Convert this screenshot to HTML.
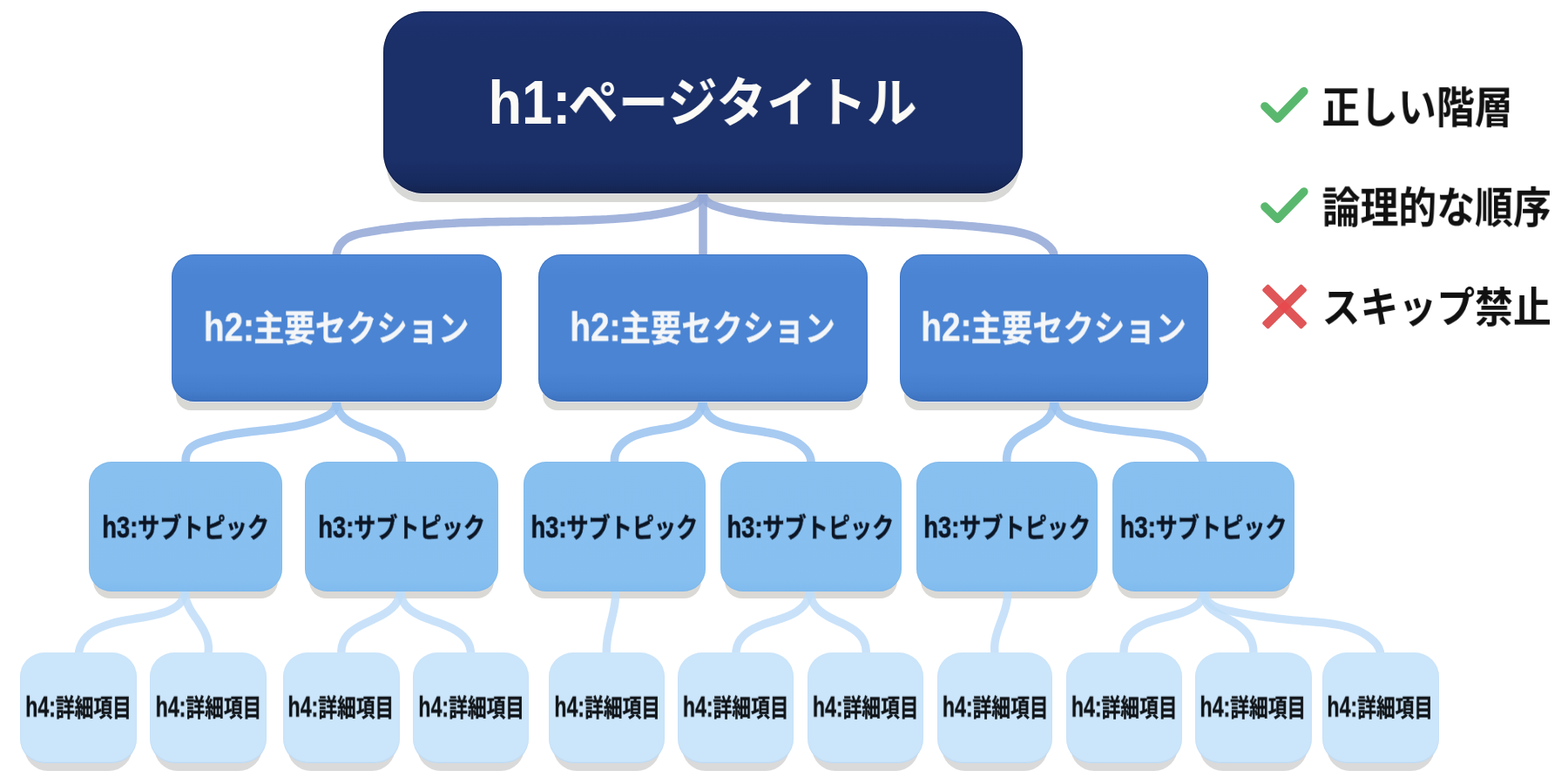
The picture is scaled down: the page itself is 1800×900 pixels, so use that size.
<!DOCTYPE html>
<html lang="ja">
<head>
<meta charset="utf-8">
<title>見出し階層</title>
<style>
html,body{margin:0;padding:0;background:#ffffff}
body{width:1800px;height:900px;overflow:hidden;position:relative;font-family:"Liberation Sans","Noto Sans CJK JP",sans-serif;font-weight:700}
#stage{position:absolute;left:0;top:0;width:1800px;height:900px;overflow:hidden;background:#ffffff}
svg{position:absolute;left:0;top:0;overflow:visible}
.box{position:absolute;z-index:2}
b{position:absolute;left:0;top:0;display:block;white-space:nowrap;line-height:1;font-weight:700;transform-origin:0 0;will-change:transform}
.leg{color:#111111;z-index:3}
.h1{background:linear-gradient(#1d3370 0,#1b2f68 18%,#1b2f68 82%,#172a5e 94%,#14244f 100%);border-radius:47px;color:#fbfaf6;font-size:60px}
.h1{box-shadow:inset 0 0 0 1px rgba(12,22,60,.5),0 1px 0 rgba(226,230,240,.9)}
.h2{background:linear-gradient(#4f89d8 0,#4a84d3 14%,#4a84d3 80%,#447dcb 93%,#3d72bf 100%);border-radius:26px;color:#f4f6f8;font-size:41px}
.h2{box-shadow:inset 0 0 0 1px rgba(50,95,170,.4),0 1px 0 rgba(222,232,246,.9)}
.h2 b{-webkit-text-stroke:0.3px #f4f6f8}
.h3{background:linear-gradient(#88c0f0 0,#87c0f0 90%,#80bbef 100%);border-radius:26px;color:#0c1524;font-size:30px}
.h3{box-shadow:inset 0 0 0 1px rgba(110,170,225,.25)}
.h3 b{-webkit-text-stroke:0.5px #0c1524}
.h4{background:#cbe5fa;border-radius:28px;color:#101418;font-size:29px}
.h4{box-shadow:inset 0 -1px 1px rgba(160,195,230,.35)}
.h4 b{-webkit-text-stroke:0.4px #101418}
</style>
</head>
<body>
<div id="stage">
<svg class="links" width="1800" height="900" viewBox="0 0 1800 900" fill="none" stroke-linecap="butt" stroke-linejoin="round">
<g stroke="none">
<rect x="444" y="23" width="726" height="209" rx="40" fill="#d8d8d6"/>
<rect x="202" y="302" width="369" height="169" rx="17" fill="#d8d8d5"/>
<rect x="623" y="302" width="368" height="169" rx="17" fill="#d8d8d5"/>
<rect x="1038" y="302" width="344" height="169" rx="17" fill="#d8d8d5"/>
<rect x="107" y="538" width="212" height="149" rx="20" fill="#dbd9d5"/>
<rect x="355" y="538" width="212" height="149" rx="20" fill="#dbd9d5"/>
<rect x="606" y="538" width="199" height="149" rx="20" fill="#dbd9d5"/>
<rect x="832" y="538" width="198" height="149" rx="20" fill="#dbd9d5"/>
<rect x="1057" y="538" width="198" height="149" rx="20" fill="#dbd9d5"/>
<rect x="1282" y="538" width="199" height="149" rx="20" fill="#dbd9d5"/>
<rect x="28" y="758" width="124" height="127" rx="27" fill="#dadada"/>
<rect x="177" y="758" width="124" height="127" rx="27" fill="#dadada"/>
<rect x="330" y="758" width="124" height="127" rx="27" fill="#dadada"/>
<rect x="479" y="758" width="123" height="127" rx="27" fill="#dadada"/>
<rect x="635" y="758" width="123" height="127" rx="27" fill="#dadada"/>
<rect x="783" y="758" width="123" height="127" rx="27" fill="#dadada"/>
<rect x="932" y="758" width="123" height="127" rx="27" fill="#dadada"/>
<rect x="1081" y="758" width="122" height="127" rx="27" fill="#dadada"/>
<rect x="1229" y="758" width="123" height="127" rx="27" fill="#dadada"/>
<rect x="1377" y="758" width="124" height="127" rx="27" fill="#dadada"/>
<rect x="1523" y="758" width="124" height="127" rx="27" fill="#dadada"/>
</g>
<g stroke="rgba(146,167,214,.85)" stroke-width="9.6">
<path d="M807 219L807 296"/>
<path d="M806.5 219C806.4 223 805.5 226.1 804 228.6C802.5 231.2 800.4 233.1 797.9 234.6C795.5 236.1 792.6 237.2 789.7 238.1C786.7 239 783.6 239.8 780.5 240.6C777.5 241.3 774.4 242 771.4 242.7C768.3 243.4 765.2 244 762.1 244.6C759 245.2 756 245.7 752.9 246.2C749.8 246.7 746.7 247.1 743.6 247.6C740.5 248 737.4 248.4 734.3 248.7C731.2 249.1 728.1 249.4 725 249.7C721.9 250 718.8 250.3 715.6 250.5C712.5 250.8 709.4 251 706.3 251.2C703.2 251.4 700.1 251.6 697 251.8C693.8 251.9 690.7 252.1 687.6 252.2C684.5 252.3 681.4 252.5 678.3 252.6C675.1 252.7 672 252.8 668.9 252.9C665.8 253 662.7 253.1 659.6 253.2C656.5 253.2 653.3 253.3 650.2 253.4C647.1 253.5 644 253.5 640.9 253.6C637.8 253.6 634.7 253.7 631.6 253.7C628.4 253.8 625.3 253.8 622.2 253.9C619.1 253.9 616 254 612.9 254C609.8 254 606.7 254.1 603.6 254.1C600.5 254.2 597.4 254.2 594.3 254.2C591.1 254.3 588 254.3 584.9 254.4C581.8 254.4 578.7 254.5 575.6 254.5C572.5 254.6 569.4 254.6 566.3 254.7C563.2 254.8 560.1 254.8 557 254.9C553.8 255 550.7 255.1 547.6 255.2C544.5 255.3 541.4 255.4 538.3 255.5C535.2 255.6 532.1 255.7 529 255.8C525.9 256 522.7 256.1 519.6 256.3C516.5 256.4 513.4 256.6 510.3 256.8C507.2 256.9 504.1 257.1 501 257.3C497.9 257.5 494.7 257.8 491.6 258C488.5 258.2 485.4 258.5 482.3 258.8C479.2 259 476 259.3 472.9 259.6C469.8 259.9 466.7 260.2 463.6 260.6C460.5 260.9 457.3 261.3 454.2 261.7C451.1 262 448 262.5 444.9 262.9C441.7 263.3 438.6 263.8 435.5 264.2C432.4 264.7 429.2 265.2 426.1 265.7C423 266.2 419.8 266.8 416.7 267.4C413.7 268 410.6 268.7 407.7 269.6C404.8 270.5 402 271.6 399.5 273C397 274.5 394.6 276.2 392.6 278.4C390.6 280.5 388.9 283.1 387.8 286C386.6 289 385.9 292.3 386 296"/>
<path d="M807.5 219C807.1 223.1 807.9 226.3 809.4 228.8C811 231.3 813.3 233.1 816 234.4C818.7 235.8 821.7 236.7 824.6 237.7C827.6 238.6 830.5 239.5 833.5 240.3C836.5 241.1 839.5 241.9 842.5 242.5C845.5 243.2 848.6 243.9 851.6 244.4C854.7 245 857.7 245.5 860.8 246C863.9 246.5 867 247 870.1 247.4C873.2 247.8 876.3 248.1 879.4 248.5C882.5 248.8 885.6 249.1 888.7 249.4C891.8 249.7 894.9 249.9 898 250.2C901.1 250.4 904.2 250.7 907.3 250.9C910.4 251.1 913.5 251.3 916.6 251.5C919.8 251.7 922.9 251.9 926 252C929.1 252.2 932.2 252.4 935.3 252.5C938.4 252.7 941.5 252.8 944.6 252.9C947.7 253.1 950.7 253.2 953.8 253.3C956.9 253.4 960 253.5 963.1 253.6C966.2 253.7 969.3 253.8 972.4 253.9C975.5 254 978.6 254.1 981.7 254.2C984.8 254.3 987.9 254.3 991 254.4C994.1 254.5 997.1 254.6 1000.2 254.7C1003.3 254.7 1006.4 254.8 1009.5 254.9C1012.6 255 1015.7 255.1 1018.8 255.1C1021.9 255.2 1025 255.3 1028.1 255.4C1031.1 255.5 1034.2 255.6 1037.3 255.7C1040.4 255.7 1043.5 255.8 1046.6 256C1049.7 256.1 1052.8 256.2 1055.9 256.3C1059 256.4 1062.1 256.5 1065.2 256.7C1068.3 256.8 1071.4 256.9 1074.5 257.1C1077.6 257.3 1080.7 257.4 1083.8 257.6C1086.9 257.8 1090 257.9 1093.1 258.1C1096.2 258.3 1099.3 258.6 1102.4 258.8C1105.5 259 1108.6 259.2 1111.7 259.5C1114.8 259.7 1117.9 260 1121 260.3C1124.1 260.6 1127.2 260.9 1130.4 261.2C1133.5 261.5 1136.6 261.8 1139.7 262.2C1142.8 262.6 1146 262.9 1149.1 263.3C1152.2 263.7 1155.3 264.1 1158.4 264.6C1161.6 265.1 1164.6 265.6 1167.7 266.2C1170.8 266.8 1173.8 267.5 1176.8 268.3C1179.7 269.1 1182.6 270.1 1185.4 271.2C1188.3 272.3 1191 273.6 1193.7 275.1C1196.3 276.6 1198.9 278.3 1201.3 280.3C1203.7 282.2 1206.1 284.4 1207.8 287C1209.5 289.5 1210.5 292.5 1210 296"/>
</g>
<g stroke="rgba(153,194,240,.85)" stroke-width="9.6">
<path d="M385.5 458C386.4 462.1 386.1 465.4 385 468.1C383.9 470.8 382 473 379.6 474.8C377.2 476.6 374.4 478 371.5 479.3C368.5 480.6 365.6 481.8 362.6 482.8C359.6 483.9 356.7 484.8 353.6 485.7C350.6 486.5 347.6 487.3 344.6 487.9C341.5 488.6 338.5 489.2 335.4 489.8C332.3 490.3 329.2 490.8 326.1 491.2C323 491.7 319.9 492.1 316.8 492.5C313.7 492.8 310.6 493.2 307.4 493.5C304.3 493.8 301.2 494.2 298 494.5C294.9 494.8 291.8 495.2 288.6 495.5C285.5 495.9 282.4 496.3 279.2 496.7C276.1 497.1 273 497.5 269.9 498C266.8 498.5 263.7 499 260.6 499.6C257.5 500.2 254.4 500.9 251.4 501.6C248.3 502.3 245.3 503.1 242.3 504C239.3 504.8 236.3 505.8 233.3 506.8C230.3 507.8 227.4 508.9 224.6 510.3C221.9 511.7 219.4 513.4 217.5 515.6C215.6 517.9 214.3 520.8 213.6 523.9C213 527.1 212.9 530.6 213.6 534"/>
<path d="M386.5 458C386.2 462.1 386.8 465.8 387.9 469C389.1 472.3 390.9 475.1 393.1 477.6C395.2 480.1 397.8 482.2 400.7 484.1C403.5 485.9 406.7 487.5 409.9 489C413.2 490.4 416.6 491.7 420.1 493C423.6 494.3 427.1 495.6 430.5 496.9C433.9 498.3 437.3 499.7 440.4 501.3C443.6 502.9 446.6 504.6 449.2 506.7C451.9 508.7 454.2 511 456.1 513.6C458 516.3 459.5 519.3 460.3 522.7C461.2 526 461.5 529.8 461 534"/>
<path d="M806 458C806.4 461.9 806 465.5 804.9 468.6C803.8 471.8 802.2 474.6 800.1 477C798 479.4 795.5 481.4 792.8 483.1C790.1 484.8 787.2 486.2 784.1 487.3C781 488.5 777.7 489.4 774.4 490.1C771 490.9 767.6 491.6 764.2 492.1C760.7 492.7 757.3 493.3 753.8 493.8C750.4 494.4 747 495 743.7 495.7C740.4 496.4 737.1 497.3 733.9 498.3C730.8 499.3 727.7 500.5 724.8 501.9C721.9 503.4 719.2 505.1 716.6 507.2C714.1 509.2 711.7 511.6 709.9 514.3C708 517 706.6 520 705.9 523.3C705.2 526.6 705.1 530.1 706 534"/>
<path d="M807 458C806.8 462.1 807.3 465.6 808.5 468.7C809.6 471.8 811.4 474.5 813.6 476.7C815.7 479 818.3 480.9 821.2 482.6C824 484.2 827.1 485.5 830.3 486.7C833.5 487.8 836.7 488.8 840 489.6C843.2 490.4 846.4 491.1 849.7 491.7C852.9 492.3 856.1 492.8 859.4 493.2C862.7 493.7 866 494.2 869.3 494.6C872.6 495.1 876 495.6 879.3 496.2C882.7 496.7 886.1 497.4 889.5 498.1C892.9 498.9 896.2 499.8 899.4 500.8C902.7 501.9 905.8 503.1 908.8 504.5C911.9 505.9 914.7 507.5 917.4 509.3C920 511.2 922.5 513.3 924.7 515.7C926.8 518.1 928.6 520.8 929.8 523.8C930.9 526.8 931.4 530.2 931 534"/>
<path d="M1209.5 458C1209.8 461.5 1209.7 464.8 1209.1 467.8C1208.4 470.8 1207.3 473.6 1205.9 476.1C1204.4 478.6 1202.5 480.7 1200.4 482.7C1198.2 484.7 1195.8 486.4 1193.2 488C1190.6 489.6 1187.8 491.1 1185 492.6C1182.2 494.1 1179.4 495.5 1176.7 497.1C1174 498.6 1171.3 500.2 1168.9 502C1166.5 503.8 1164.3 505.8 1162.4 508C1160.6 510.2 1159.1 512.7 1157.9 515.4C1156.8 518.2 1156.1 521.2 1155.8 524.3C1155.5 527.4 1155.6 530.7 1156.2 534"/>
<path d="M1210.5 458C1210.3 462 1210.9 465.3 1212 468.2C1213.2 471.1 1214.9 473.6 1217.1 475.6C1219.3 477.7 1221.9 479.4 1224.7 480.8C1227.6 482.3 1230.7 483.4 1233.9 484.4C1237.1 485.4 1240.4 486.3 1243.7 487.1C1246.9 487.8 1250.1 488.5 1253.3 489.2C1256.5 489.8 1259.6 490.4 1262.8 490.9C1265.9 491.5 1269 491.9 1272.2 492.4C1275.3 492.8 1278.4 493.2 1281.5 493.6C1284.6 494 1287.8 494.4 1290.9 494.7C1294.1 495 1297.2 495.4 1300.4 495.7C1303.6 496 1306.8 496.3 1310.1 496.7C1313.3 497 1316.6 497.3 1320 497.7C1323.3 498.1 1326.6 498.5 1330 499C1333.3 499.5 1336.6 500.1 1339.8 500.8C1343.1 501.4 1346.3 502.2 1349.4 503.2C1352.5 504.1 1355.5 505.2 1358.4 506.5C1361.3 507.8 1364 509.3 1366.6 511C1369.2 512.7 1371.7 514.6 1373.9 516.8C1376.1 519 1378 521.5 1379.3 524.3C1380.6 527.1 1381.4 530.3 1381.2 534"/>
</g>
<g stroke="rgba(191,221,248,.85)" stroke-width="9.4">
<path d="M212 676C212.3 680 211.7 683.3 210.5 686.3C209.4 689.2 207.6 691.7 205.4 693.8C203.2 696 200.6 697.7 197.7 699.2C194.9 700.7 191.8 702 188.6 703C185.4 704.1 182.2 705 179 705.8C175.8 706.6 172.5 707.2 169.2 707.8C166 708.4 162.7 709 159.4 709.5C156.1 710 152.8 710.6 149.5 711.1C146.2 711.7 143 712.2 139.7 712.9C136.4 713.6 133.1 714.3 129.8 715.2C126.6 716.1 123.3 717.1 120.2 718.3C117 719.5 113.9 720.9 111 722.4C108.1 724 105.4 725.8 102.9 727.8C100.4 729.8 98.2 732 96.4 734.5C94.5 737 93 739.8 92 742.9C90.9 745.9 90.3 749.3 90.3 753"/>
<path d="M213 676C212.6 678.8 212.6 681.4 212.9 683.9C213.2 686.4 213.7 688.8 214.5 691.1C215.3 693.4 216.4 695.7 217.5 697.9C218.7 700.1 220 702.2 221.4 704.3C222.8 706.4 224.2 708.5 225.7 710.6C227.1 712.8 228.5 714.9 229.9 717C231.2 719.2 232.5 721.3 233.7 723.5C234.8 725.8 235.9 728 236.7 730.3C237.6 732.6 238.3 735 238.8 737.4C239.2 739.9 239.5 742.4 239.4 745C239.4 747.6 239.1 750.2 238.5 753"/>
<path d="M459.5 676C459.6 679.9 459 683.3 457.9 686.4C456.9 689.4 455.3 692.1 453.4 694.5C451.4 696.9 449.1 699.1 446.5 701C443.9 702.9 441.1 704.7 438.1 706.3C435.1 707.9 431.9 709.4 428.8 710.9C425.6 712.4 422.4 713.9 419.3 715.4C416.1 716.9 413.1 718.5 410.2 720.2C407.3 721.9 404.7 723.8 402.3 725.9C399.9 728 397.8 730.3 396.2 732.9C394.5 735.5 393.3 738.5 392.5 741.8C391.8 745.1 391.6 748.8 392 753"/>
<path d="M460.5 676C460 680 460.3 683.5 461.2 686.7C462.2 689.8 463.8 692.6 465.7 695C467.7 697.5 470.2 699.6 472.8 701.4C475.5 703.3 478.4 704.9 481.4 706.4C484.4 707.8 487.6 709.1 490.8 710.4C494 711.6 497.4 712.7 500.7 713.9C504 715.1 507.3 716.3 510.5 717.6C513.7 718.9 516.9 720.3 519.9 721.8C522.9 723.4 525.7 725.2 528.3 727.2C530.8 729.2 533.1 731.4 534.9 733.9C536.8 736.4 538.3 739.3 539.3 742.4C540.2 745.6 540.7 749.1 540.5 753"/>
<path d="M706.5 676C706.7 678.4 706.7 680.8 706.6 683.2C706.6 685.5 706.4 687.9 706.1 690.2C705.9 692.6 705.5 694.9 705.1 697.2C704.7 699.5 704.3 701.8 703.7 704.1C703.2 706.4 702.7 708.7 702.2 711C701.6 713.3 701.1 715.6 700.5 717.9C700 720.2 699.4 722.5 698.9 724.9C698.4 727.2 698 729.5 697.6 731.8C697.2 734.1 696.9 736.4 696.7 738.8C696.4 741.1 696.3 743.5 696.2 745.8C696.2 748.2 696.3 750.6 696.5 753"/>
<path d="M929.5 676C929.6 680 929 683.6 927.8 686.8C926.6 690.1 924.8 692.9 922.6 695.4C920.4 697.8 917.9 700 915.1 701.8C912.3 703.7 909.3 705.2 906.2 706.6C903.1 707.9 899.8 709.1 896.5 710.2C893.1 711.3 889.7 712.4 886.3 713.4C882.8 714.5 879.4 715.6 876 716.8C872.6 718.1 869.3 719.5 866.2 721.1C863 722.6 860.1 724.4 857.4 726.5C854.7 728.5 852.4 730.8 850.5 733.4C848.5 736 847 738.9 846.1 742.1C845.1 745.4 844.7 749 845 753"/>
<path d="M930.5 676C930.1 679.8 930.4 683.2 931.2 686.4C932 689.5 933.4 692.3 935.2 694.9C937 697.4 939.2 699.7 941.6 701.7C944.1 703.7 946.8 705.5 949.7 707.1C952.6 708.8 955.6 710.3 958.7 711.8C961.8 713.2 964.9 714.7 967.9 716.1C971 717.6 974 719.2 976.8 720.8C979.6 722.5 982.2 724.4 984.5 726.5C986.8 728.6 988.7 730.9 990.3 733.5C991.9 736.2 993 739.1 993.7 742.3C994.3 745.6 994.5 749.1 994 753"/>
<path d="M1156 676C1156.4 678.5 1156.5 680.9 1156.5 683.3C1156.5 685.7 1156.2 688.1 1155.9 690.4C1155.5 692.8 1155 695.1 1154.4 697.4C1153.8 699.7 1153.2 702 1152.4 704.2C1151.6 706.5 1150.8 708.7 1150 711C1149.2 713.2 1148.3 715.5 1147.5 717.8C1146.7 720 1145.9 722.3 1145.2 724.5C1144.5 726.8 1143.8 729.1 1143.3 731.4C1142.7 733.7 1142.3 736.1 1142 738.4C1141.7 740.8 1141.6 743.2 1141.7 745.6C1141.7 748 1142 750.5 1142.5 753"/>
<path d="M1381 676C1381.8 680.1 1381.4 683.6 1380.2 686.6C1379 689.6 1377 692.1 1374.6 694.2C1372.1 696.4 1369.2 698.1 1366.2 699.6C1363.1 701.1 1359.9 702.4 1356.7 703.5C1353.5 704.6 1350.2 705.6 1346.8 706.4C1343.5 707.3 1340.1 708.2 1336.8 709C1333.4 709.8 1330.1 710.7 1326.8 711.7C1323.5 712.7 1320.3 713.8 1317.1 715C1314 716.3 1310.9 717.8 1308 719.6C1305.1 721.3 1302.4 723.3 1300 725.6C1297.6 727.9 1295.5 730.4 1293.8 733.2C1292.2 735.9 1291 739 1290.4 742.3C1289.8 745.6 1289.8 749.2 1290.5 753"/>
<path d="M1382 676C1381.5 679.9 1381.7 683.2 1382.4 686.2C1383.1 689.2 1384.4 691.8 1386.1 694.1C1387.8 696.4 1389.9 698.4 1392.2 700.3C1394.6 702.1 1397.2 703.8 1400 705.3C1402.8 706.9 1405.7 708.4 1408.6 710C1411.5 711.5 1414.4 713.1 1417.1 714.8C1419.9 716.5 1422.5 718.3 1424.9 720.3C1427.2 722.3 1429.4 724.4 1431.3 726.8C1433.2 729.1 1434.7 731.6 1436 734.3C1437.2 737 1438.1 739.9 1438.5 743C1439 746.1 1439 749.4 1438.5 753"/>
<path d="M1383 676C1382.6 680.1 1383.1 683.5 1384.3 686.3C1385.5 689.1 1387.4 691.4 1389.8 693.2C1392.2 695.1 1395 696.5 1398 697.7C1401 698.8 1404.3 699.7 1407.6 700.5C1411 701.3 1414.3 701.9 1417.6 702.6C1420.9 703.3 1424.1 703.9 1427.4 704.4C1430.6 705 1433.8 705.6 1436.9 706.1C1440.1 706.6 1443.3 707.1 1446.4 707.5C1449.6 708 1452.7 708.4 1455.8 708.8C1459 709.2 1462.1 709.6 1465.2 709.9C1468.4 710.3 1471.5 710.6 1474.7 710.9C1477.8 711.3 1481 711.6 1484.2 711.9C1487.4 712.1 1490.6 712.4 1493.9 712.7C1497.2 713 1500.4 713.2 1503.8 713.5C1507.1 713.7 1510.4 714 1513.8 714.3C1517.1 714.6 1520.5 714.9 1523.8 715.4C1527.2 715.8 1530.5 716.2 1533.8 716.8C1537 717.3 1540.3 718 1543.4 718.8C1546.6 719.5 1549.7 720.4 1552.7 721.5C1555.8 722.5 1558.7 723.7 1561.5 725.1C1564.3 726.5 1567 728.1 1569.6 729.8C1572.2 731.6 1574.6 733.6 1576.9 735.8C1579.1 738 1581.2 740.5 1582.6 743.3C1584.1 746.2 1585 749.4 1585 753"/>
</g>
</svg>
<div class="box h1" style="left:440px;top:13px;width:734px;height:209px"><b style="transform:translate(120.53px,70.87px) scale(1.0525,1.1586)">h1:</b><b style="transform:translate(212.14px,76.06px) scale(0.9594,1.0249)">ページタイトル</b></div>
<div class="box h2" style="left:197px;top:292px;width:379px;height:169px"><b style="transform:translate(36.85px,61.54px) scale(0.9461,1.1092)">h2:</b><b style="transform:translate(94.01px,65.4px) scale(0.8620,0.9974)">主要セクション</b></div>
<div class="box h2" style="left:618px;top:292px;width:378px;height:169px"><b style="transform:translate(36.35px,61.54px) scale(0.9461,1.1092)">h2:</b><b style="transform:translate(93.51px,65.4px) scale(0.8620,0.9974)">主要セクション</b></div>
<div class="box h2" style="left:1033px;top:292px;width:354px;height:169px"><b style="transform:translate(24.35px,61.54px) scale(0.9461,1.1092)">h2:</b><b style="transform:translate(81.51px,65.4px) scale(0.8620,0.9974)">主要セクション</b></div>
<div class="box h3" style="left:102px;top:530px;width:222px;height:149px"><b style="transform:translate(15.23px,57.42px) scale(0.9125,1.1682)">h3:</b><b style="transform:translate(56.18px,61.67px) scale(0.8377,1.0087)">サブトピック</b></div>
<div class="box h3" style="left:350px;top:530px;width:222px;height:149px"><b style="transform:translate(15.23px,57.42px) scale(0.9125,1.1682)">h3:</b><b style="transform:translate(56.18px,61.67px) scale(0.8377,1.0087)">サブトピック</b></div>
<div class="box h3" style="left:601px;top:530px;width:209px;height:149px"><b style="transform:translate(8.43px,57.42px) scale(0.9125,1.1682)">h3:</b><b style="transform:translate(49.38px,61.67px) scale(0.8377,1.0087)">サブトピック</b></div>
<div class="box h3" style="left:827px;top:530px;width:208px;height:149px"><b style="transform:translate(7.43px,57.42px) scale(0.9125,1.1682)">h3:</b><b style="transform:translate(48.38px,61.67px) scale(0.8377,1.0087)">サブトピック</b></div>
<div class="box h3" style="left:1052px;top:530px;width:208px;height:149px"><b style="transform:translate(8.22px,57.42px) scale(0.9125,1.1682)">h3:</b><b style="transform:translate(49.18px,61.67px) scale(0.8377,1.0087)">サブトピック</b></div>
<div class="box h3" style="left:1277px;top:530px;width:209px;height:149px"><b style="transform:translate(8.72px,57.42px) scale(0.9125,1.1682)">h3:</b><b style="transform:translate(49.68px,61.67px) scale(0.8377,1.0087)">サブトピック</b></div>
<div class="box h4" style="left:23px;top:749px;width:134px;height:127px"><b style="transform:translate(6.1px,46.84px) scale(0.8000,1.1286)">h4:</b><b style="transform:translate(40.84px,50.7px) scale(0.7495,0.9688)">詳細項目</b></div>
<div class="box h4" style="left:172px;top:749px;width:134px;height:127px"><b style="transform:translate(6.6px,46.84px) scale(0.8000,1.1286)">h4:</b><b style="transform:translate(41.34px,50.7px) scale(0.7495,0.9688)">詳細項目</b></div>
<div class="box h4" style="left:325px;top:749px;width:134px;height:127px"><b style="transform:translate(5.5px,46.84px) scale(0.8000,1.1286)">h4:</b><b style="transform:translate(40.24px,50.7px) scale(0.7495,0.9688)">詳細項目</b></div>
<div class="box h4" style="left:474px;top:749px;width:133px;height:127px"><b style="transform:translate(6.3px,46.84px) scale(0.8000,1.1286)">h4:</b><b style="transform:translate(41.04px,50.7px) scale(0.7495,0.9688)">詳細項目</b></div>
<div class="box h4" style="left:630px;top:749px;width:133px;height:127px"><b style="transform:translate(6.3px,46.84px) scale(0.8000,1.1286)">h4:</b><b style="transform:translate(41.04px,50.7px) scale(0.7495,0.9688)">詳細項目</b></div>
<div class="box h4" style="left:778px;top:749px;width:133px;height:127px"><b style="transform:translate(5.8px,46.84px) scale(0.8000,1.1286)">h4:</b><b style="transform:translate(40.54px,50.7px) scale(0.7495,0.9688)">詳細項目</b></div>
<div class="box h4" style="left:927px;top:749px;width:133px;height:127px"><b style="transform:translate(5.8px,46.84px) scale(0.8000,1.1286)">h4:</b><b style="transform:translate(40.54px,50.7px) scale(0.7495,0.9688)">詳細項目</b></div>
<div class="box h4" style="left:1076px;top:749px;width:132px;height:127px"><b style="transform:translate(5.8px,46.84px) scale(0.8000,1.1286)">h4:</b><b style="transform:translate(40.54px,50.7px) scale(0.7495,0.9688)">詳細項目</b></div>
<div class="box h4" style="left:1224px;top:749px;width:133px;height:127px"><b style="transform:translate(5.8px,46.84px) scale(0.8000,1.1286)">h4:</b><b style="transform:translate(40.54px,50.7px) scale(0.7495,0.9688)">詳細項目</b></div>
<div class="box h4" style="left:1372px;top:749px;width:134px;height:127px"><b style="transform:translate(5.5px,46.84px) scale(0.8000,1.1286)">h4:</b><b style="transform:translate(40.24px,50.7px) scale(0.7495,0.9688)">詳細項目</b></div>
<div class="box h4" style="left:1518px;top:749px;width:134px;height:127px"><b style="transform:translate(5.4px,46.84px) scale(0.8000,1.1286)">h4:</b><b style="transform:translate(40.14px,50.7px) scale(0.7495,0.9688)">詳細項目</b></div>
<svg class="icons" width="1800" height="900" viewBox="0 0 1800 900" fill="none" style="z-index:3">
<g stroke="#5ab86e" stroke-width="9.7" stroke-linecap="round" stroke-linejoin="round">
<path d="M1452 122L1466.5 136.2L1496.8 104.9"/>
<path d="M1452 237.2L1466.5 251.4L1496.8 220.1"/>
</g>
<g transform="translate(1474.6 352)">
<rect x="-32" y="-5.1" width="64" height="10.2" rx="2" transform="rotate(45)" fill="#e05658"/>
<rect x="-32" y="-5.1" width="64" height="10.2" rx="2" transform="rotate(-45)" fill="#e05658"/>
<rect x="-5.1" y="-5.1" width="10.2" height="10.2" transform="rotate(45)" fill="#e74a4e"/>
</g>
</svg>

<b class="leg" style="font-size:48px;transform:translate(1517.37px,99.34px) scale(0.9132,1.0373)">正しい階層</b>
<b class="leg" style="font-size:48px;transform:translate(1517.63px,214.78px) scale(0.9139,1.0166)">論理的な順序</b>
<b class="leg" style="font-size:48px;transform:translate(1517.57px,329.99px) scale(0.9141,0.9945)">スキップ禁止</b>
</div>
</body>
</html>
